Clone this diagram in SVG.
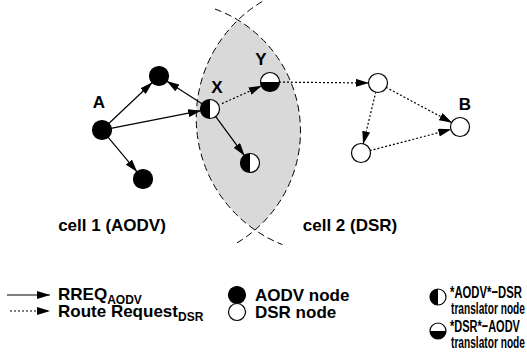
<svg xmlns="http://www.w3.org/2000/svg" width="527" height="355" viewBox="0 0 527 355">
<style>
text{font-family:"Liberation Sans",Arial,Helvetica,sans-serif;font-weight:bold;fill:#000;font-size:17px}
.sub{font-size:12px}
.solid{stroke:#000;stroke-width:1.2;fill:none}
.dot{stroke:#000;stroke-width:1.2;fill:none;stroke-dasharray:2,2}
.cell{stroke:#000;stroke-width:1;fill:none;stroke-dasharray:7,4}
.nb{fill:#000;stroke:#000;stroke-width:1.2}
.nw{fill:#fff;stroke:#000;stroke-width:1.2}
.half{fill:#000;stroke:none}
</style>
<defs>
<marker id="ah" viewBox="0 0 13 8" refX="13" refY="4" markerWidth="13" markerHeight="8" markerUnits="userSpaceOnUse" orient="auto">
<path d="M0,0 L13,4 L0,8 Z" fill="#000"/>
</marker>
</defs>
<g id="lens">
<path d="M238,20 A130,130 0 0 1 255,230 A136,136 0 0 1 238,20 Z" fill="#d9d9d9" stroke="none"/>
<path class="cell" d="M262.2,1.5 A136,136 0 0 0 282.4,244.6"/>
<path class="cell" d="M214.9,9 A130,130 0 0 1 235.4,243.8"/>
</g>
<g id="connectors">
<line class="solid" x1="108.5" y1="123.8" x2="152.5" y2="82.2" marker-end="url(#ah)"/>
<line class="solid" x1="110.8" y1="128.3" x2="201.2" y2="110.7" marker-end="url(#ah)"/>
<line class="solid" x1="107.8" y1="136.9" x2="137.2" y2="172.1" marker-end="url(#ah)"/>
<line class="solid" x1="202.4" y1="104.1" x2="166.6" y2="80.9" marker-end="url(#ah)"/>
<line class="solid" x1="215.4" y1="116.2" x2="244.6" y2="155.8" marker-end="url(#ah)"/>
<line class="dot" x1="222" y1="103.6" x2="261.8" y2="85.7" marker-end="url(#ah)"/>
<line class="dot" x1="279" y1="82.1" x2="369" y2="83" marker-end="url(#ah)"/>
<line class="dot" x1="385.9" y1="87.3" x2="452.1" y2="122.7" marker-end="url(#ah)"/>
<line class="dot" x1="375.9" y1="91.7" x2="363.1" y2="144.3" marker-end="url(#ah)"/>
<line class="dot" x1="369.7" y1="150.7" x2="451.3" y2="129.3" marker-end="url(#ah)"/>
</g>
<g id="nodeA"><circle class="nb" cx="102" cy="130" r="9.5"/><text x="99" y="108" text-anchor="middle">A</text></g>
<g id="nodeA1"><circle class="nb" cx="159" cy="76" r="9.5"/></g>
<g id="nodeA2"><circle class="nb" cx="143" cy="179" r="9.5"/></g>
<g id="nodeX"><circle class="nw" cx="210" cy="109" r="9.5"/><path class="half" d="M210,99.5 A9.5,9.5 0 0 0 210,118.5 Z"/><text x="217" y="93" text-anchor="middle">X</text></g>
<g id="nodeX2"><circle class="nw" cx="250" cy="163" r="9.5"/><path class="half" d="M250,153.5 A9.5,9.5 0 0 0 250,172.5 Z"/></g>
<g id="nodeY"><circle class="nw" cx="270" cy="82" r="9.5"/><path class="half" d="M260.5,82 A9.5,9.5 0 0 0 279.5,82 Z"/><text x="261" y="65" text-anchor="middle">Y</text></g>
<g id="nodeD1"><circle class="nw" cx="378" cy="83" r="9.5"/></g>
<g id="nodeD2"><circle class="nw" cx="361" cy="153" r="9.5"/></g>
<g id="nodeB"><circle class="nw" cx="460" cy="127" r="9.5"/><text x="465" y="110" text-anchor="middle">B</text></g>
<g id="cell-labels">
<text x="112" y="231" text-anchor="middle">cell 1 (AODV)</text>
<text x="350" y="231" text-anchor="middle">cell 2 (DSR)</text>
</g>
<g id="legend">
<line class="solid" x1="7" y1="295" x2="50" y2="295" marker-end="url(#ah)"/>
<line class="dot" x1="10" y1="311" x2="50" y2="311" marker-end="url(#ah)"/>
<text x="58" y="300">RREQ<tspan class="sub" dy="4">AODV</tspan></text>
<text x="58" y="317">Route Request<tspan class="sub" dy="4">DSR</tspan></text>
<circle class="nb" cx="237" cy="295" r="8.5"/>
<text x="255" y="301">AODV node</text>
<circle class="nw" cx="237" cy="312" r="8.5"/>
<text x="255" y="318">DSR node</text>
<circle class="nw" cx="438" cy="297" r="8"/><path class="half" d="M438,289 A8,8 0 0 0 438,305 Z"/>
<text transform="translate(450,298) scale(0.665,1)">*AODV*−DSR</text>
<text transform="translate(451,314) scale(0.598,1)">translator node</text>
<circle class="nw" cx="438" cy="331" r="8"/><path class="half" d="M430,331 A8,8 0 0 0 446,331 Z"/>
<text transform="translate(450,332) scale(0.647,1)">*DSR*−AODV</text>
<text transform="translate(451,348) scale(0.598,1)">translator node</text>
</g>
</svg>
